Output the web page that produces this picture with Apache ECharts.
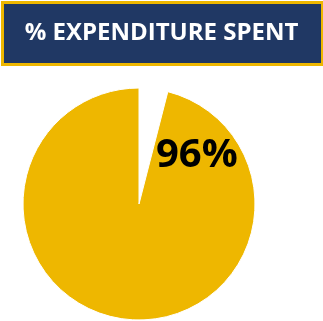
<!DOCTYPE html>
<html>
<head>
<meta charset="utf-8">
<script src="https://cdn.jsdelivr.net/npm/echarts@6/dist/echarts.min.js"></script>
<style>
html,body{margin:0;padding:0;background:#fff;}
#chart{width:323px;height:321px;}
</style>
</head>
<body>
<div id="chart"></div>
<script>
const chartTitle = '% EXPENDITURE SPENT';
const categories = ['Not spent', 'Spent'];
const values = [4, 96];

const chart = echarts.init(document.getElementById('chart'), null, {renderer: 'canvas'});
const gold = '#EEB700';
const navy = '#203864';
chart.setOption({
  animation: false,
  graphic: [
    {type: 'rect', left: 1, top: 1, shape: {x: 0, y: 0, width: 320, height: 62},
     style: {fill: navy, stroke: gold, lineWidth: 3}, z: 0}
  ],
  title: [
    {text: chartTitle, left: 'center', top: 16,
     textStyle: {color: '#fff', fontFamily: 'Open Sans', fontWeight: 'bold', fontSize: 24}},
    {text: values[1] + '%', left: 151, top: 131,
     textStyle: {color: '#000', fontFamily: 'Open Sans', fontWeight: 'bold', fontSize: 40}}
  ],
  series: [{
    type: 'pie',
    center: [139, 204],
    radius: [0, 116],
    startAngle: 90,
    clockwise: true,
    label: {show: false},
    labelLine: {show: false},
    silent: true,
    data: categories.map((c, i) => ({
      name: c, value: values[i],
      itemStyle: i === 0 ? {color: 'rgba(0,0,0,0)'} : {color: gold, borderColor: '#fff', borderWidth: 1}
    }))
  }]
});
</script>
</body>
</html>
